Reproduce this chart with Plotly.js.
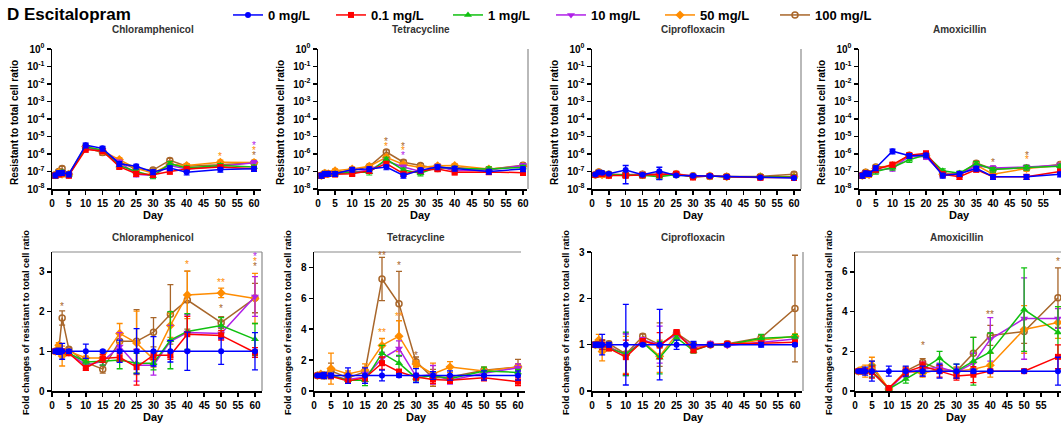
<!DOCTYPE html>
<html><head><meta charset="utf-8">
<script src="https://cdn.plot.ly/plotly-3.0.1.min.js"></script>
<style>html,body{margin:0;padding:0;background:#fff}#chart{width:1061px;height:425px}</style>
</head><body><div id="chart"></div>
<script>
// ---------------- DATA ----------------
const days = [1, 2, 3, 5, 10, 15, 20, 25, 30, 35, 40, 50, 60];
const seriesNames = ['0 mg/L', '0.1 mg/L', '1 mg/L', '10 mg/L', '50 mg/L', '100 mg/L'];
const xTickVals = [0, 5, 10, 15, 20, 25, 30, 35, 40, 45, 50, 55, 60];
const logTickVals = [1, 1e-1, 1e-2, 1e-3, 1e-4, 1e-5, 1e-6, 1e-7, 1e-8];
const logTickText = ['10<sup>0</sup>', '10<sup>-1</sup>', '10<sup>-2</sup>', '10<sup>-3</sup>', '10<sup>-4</sup>', '10<sup>-5</sup>', '10<sup>-6</sup>', '10<sup>-7</sup>', '10<sup>-8</sup>'];
const panelTitles = ['Chloramphenicol', 'Tetracycline', 'Ciprofloxacin', 'Amoxicillin'];

// Top row: resistant to total cell ratio (rows: 0, 0.1, 1, 10, 50, 100 mg/L)
const chlRatio = [
  [6.1e-8, 8.3e-8, 8.5e-8, 7e-8, 3.2e-6, 2.1e-6, 2.8e-7, 2e-7, 9.5e-8, 1.6e-7, 9e-8, 1.3e-7, 1.45e-7],
  [6e-8, 7e-8, 8e-8, 6e-8, 1.8e-6, 1.5e-6, 1.9e-7, 7.5e-8, 6.5e-8, 1e-7, 1.4e-7, 1.8e-7, 1.45e-7],
  [6e-8, 8e-8, 9e-8, 6.5e-8, 2.5e-6, 1.7e-6, 2.2e-7, 1e-7, 5.5e-8, 2.8e-7, 1.6e-7, 2.2e-7, 1.8e-7],
  [6e-8, 8e-8, 9e-8, 6.5e-8, 2.2e-6, 1.6e-6, 3.5e-7, 7e-8, 6e-8, 2.2e-7, 1.4e-7, 2e-7, 3.2e-7],
  [6.5e-8, 9e-8, 7e-8, 7e-8, 2.7e-6, 1.5e-6, 4.8e-7, 1.5e-7, 8e-8, 2.6e-7, 2.2e-7, 3.4e-7, 3.3e-7],
  [6.5e-8, 1e-7, 1.5e-7, 7e-8, 2.3e-6, 1.2e-6, 3.5e-7, 1.4e-7, 1.2e-7, 4.3e-7, 2e-7, 2.4e-7, 3.2e-7]
];
const tetRatio = [
  [6e-8, 7.5e-8, 7.5e-8, 7.5e-8, 1.3e-7, 1.4e-7, 1.8e-7, 6e-8, 1.2e-7, 1.8e-7, 1.5e-7, 1e-7, 1.4e-7],
  [6e-8, 7e-8, 7.5e-8, 7e-8, 7.5e-8, 1.1e-7, 2.8e-7, 7.5e-8, 1.1e-7, 1.4e-7, 9e-8, 9.5e-8, 8.5e-8],
  [6e-8, 7.5e-8, 7.5e-8, 7.5e-8, 9e-8, 9e-8, 5e-7, 1.2e-7, 8e-8, 1.8e-7, 1.5e-7, 1.4e-7, 1.7e-7],
  [6e-8, 7.5e-8, 7.5e-8, 7.5e-8, 9e-8, 1.2e-7, 4e-7, 1.8e-7, 1e-7, 2e-7, 1.1e-7, 1.2e-7, 2.2e-7],
  [6e-8, 8e-8, 7.5e-8, 1.1e-7, 1.4e-7, 2e-7, 6.5e-7, 2.5e-7, 1.7e-7, 2.1e-7, 2.2e-7, 1.4e-7, 2e-7],
  [6e-8, 8e-8, 7.5e-8, 9e-8, 1.1e-7, 1.9e-7, 1.3e-6, 3.4e-7, 2.2e-7, 1.5e-7, 1.7e-7, 1.3e-7, 2.3e-7]
];
const cipRatio = [
  [6.8e-8, 9e-8, 8.5e-8, 7.5e-8, 1.2e-7, 6.5e-8, 1.05e-7, 6e-8, 5.8e-8, 5.5e-8, 5e-8, 4.6e-8, 4.2e-8],
  [6.5e-8, 8e-8, 7.5e-8, 6e-8, 6e-8, 6.2e-8, 6.8e-8, 7.5e-8, 4.8e-8, 5.5e-8, 5e-8, 4.6e-8, 4.5e-8],
  [6.5e-8, 8e-8, 7.5e-8, 6.5e-8, 6.5e-8, 6.2e-8, 5e-8, 6.8e-8, 5e-8, 5.5e-8, 5e-8, 5.2e-8, 5e-8],
  [6.5e-8, 8e-8, 7.5e-8, 6.5e-8, 6.5e-8, 6.8e-8, 7e-8, 7e-8, 5.5e-8, 5.8e-8, 5e-8, 4.8e-8, 4.8e-8],
  [6.5e-8, 9e-8, 6.5e-8, 6.5e-8, 6.5e-8, 6.5e-8, 5.5e-8, 7e-8, 5.4e-8, 5.5e-8, 5e-8, 5e-8, 5e-8],
  [6.5e-8, 9.5e-8, 7.5e-8, 7e-8, 6.5e-8, 7e-8, 7e-8, 7.2e-8, 5.8e-8, 5.5e-8, 5.1e-8, 5.2e-8, 7e-8]
];
const amoRatio = [
  [6e-8, 8e-8, 7.5e-8, 1.6e-7, 1.45e-6, 8e-7, 8.5e-7, 6e-8, 7.5e-8, 1.5e-7, 5e-8, 5e-8, 7e-8],
  [6e-8, 8e-8, 7.5e-8, 1.3e-7, 2.5e-7, 8.5e-7, 1.1e-6, 7e-8, 5e-8, 1.3e-7, 5e-8, 5e-8, 1e-7],
  [6e-8, 8e-8, 7.5e-8, 1e-7, 1.7e-7, 4.7e-7, 9e-7, 1.1e-7, 8e-8, 2.8e-7, 1.3e-7, 1.7e-7, 2e-7],
  [6e-8, 8e-8, 7.5e-8, 1.2e-7, 1.5e-7, 7.5e-7, 7e-7, 7e-8, 6.5e-8, 2.2e-7, 1.6e-7, 1.8e-7, 2.3e-7],
  [6e-8, 8.5e-8, 6.5e-8, 1.5e-7, 2.2e-7, 8e-7, 8e-7, 7e-8, 7e-8, 2.3e-7, 7e-8, 1.5e-7, 2.2e-7],
  [6e-8, 9e-8, 7.5e-8, 1.8e-7, 2e-7, 8.5e-7, 9e-7, 8e-8, 7e-8, 3e-7, 1.4e-7, 1.6e-7, 2.5e-7]
];
const cipRatioBlueErr = [1e-8, 1.5e-8, 1.5e-8, 1e-8, 1e-7, 8e-9, 7e-8, 8e-9, 8e-9, 6e-9, 5e-9, 5e-9, 5e-9];

// Bottom row: fold changes
const chlFold = [
  [1, 1, 1, 1, 1, 1, 1, 1, 1, 1, 1, 1, 1],
  [1.0, 1.0, 1.0, 0.95, 0.58, 0.82, 0.85, 0.6, 0.9, 0.9, 1.43, 1.4, 0.97],
  [1.0, 1.0, 1.0, 0.95, 0.73, 0.75, 0.78, 0.7, 0.7, 1.28, 1.5, 1.65, 1.3],
  [1.0, 1.0, 1.0, 0.95, 0.65, 0.75, 1.12, 0.65, 0.65, 1.25, 1.47, 1.45, 2.38],
  [1.0, 1.15, 0.88, 1.0, 0.83, 0.83, 1.45, 1.21, 0.8, 1.65, 2.42, 2.47, 2.33],
  [1.0, 1.05, 1.84, 1.05, 0.72, 0.55, 1.25, 1.25, 1.48, 1.93, 2.29, 1.72, 2.34]
];
const chlFoldErr = [
  [0.05, 0.08, 0.2, 0.05, 0.18, 0.03, 0.28, 0.57, 0.37, 0.27, 0.48, 0.33, 0.47],
  [0.03, 0.03, 0.05, 0.05, 0.06, 0.1, 0.1, 0.45, 0.1, 0.1, 0.45, 0.12, 0.12],
  [0.03, 0.03, 0.05, 0.05, 0.08, 0.1, 0.22, 0.25, 0.17, 0.72, 0.45, 0.2, 0.4],
  [0.03, 0.03, 0.05, 0.05, 0.08, 0.1, 0.35, 0.4, 0.25, 0.4, 0.45, 0.15, 0.5],
  [0.05, 0.07, 0.25, 0.05, 0.05, 0.1, 0.25, 0.8, 0.2, 0.3, 0.6, 0.12, 0.63],
  [0.05, 0.05, 0.18, 0.05, 0.05, 0.1, 0.2, 0.8, 0.37, 0.75, 0.73, 0.15, 0.37]
];
const tetFold = [
  [1, 1, 1, 1, 1, 1, 1, 1, 1, 1, 1, 1, 1],
  [1.0, 1.0, 1.0, 0.95, 0.65, 0.85, 1.8, 1.25, 0.9, 0.75, 0.7, 0.85, 0.6],
  [1.0, 1.0, 1.0, 1.0, 0.7, 0.7, 2.45, 1.8, 0.85, 1.0, 0.8, 1.3, 1.2],
  [1.0, 1.0, 1.0, 1.0, 0.75, 0.9, 2.1, 2.75, 0.95, 1.05, 0.7, 1.15, 1.5],
  [1.0, 1.1, 1.0, 1.45, 1.1, 1.35, 2.95, 3.55, 1.75, 1.1, 1.55, 1.3, 1.55],
  [1.0, 1.0, 1.0, 1.3, 0.85, 1.25, 7.25, 5.65, 1.9, 0.85, 0.9, 1.35, 1.55]
];
const tetFoldErr = [
  [0.05, 0.1, 0.2, 0.15, 0.5, 0.5, 0.35, 0.1, 0.45, 0.25, 0.3, 0.3, 0.3],
  [0.05, 0.05, 0.1, 0.1, 0.15, 0.2, 0.4, 0.15, 0.2, 0.25, 0.2, 0.2, 0.25],
  [0.05, 0.05, 0.1, 0.1, 0.15, 0.35, 0.5, 0.5, 0.2, 0.25, 0.2, 0.25, 0.2],
  [0.05, 0.05, 0.1, 0.1, 0.15, 0.3, 0.4, 0.5, 0.2, 0.6, 0.25, 0.2, 0.25],
  [0.05, 0.1, 0.2, 1.0, 0.2, 0.4, 0.45, 1.0, 0.2, 0.7, 0.35, 0.2, 0.2],
  [0.05, 0.1, 0.2, 0.5, 0.15, 0.3, 1.4, 2.1, 0.3, 0.55, 0.3, 0.2, 0.5]
];
const cipFold = [
  [1, 1, 1, 1, 1, 1, 1, 1, 1, 1, 1, 1, 1],
  [1.0, 1.0, 1.0, 0.92, 0.73, 1.08, 0.98, 1.27, 0.88, 1.0, 1.02, 1.03, 1.05],
  [1.0, 1.0, 1.0, 0.92, 0.8, 1.05, 0.72, 1.15, 0.87, 1.0, 1.0, 1.14, 1.17],
  [1.0, 1.0, 1.0, 0.95, 0.78, 1.1, 1.0, 1.22, 0.95, 1.02, 0.98, 1.05, 1.12],
  [1.0, 1.1, 0.85, 0.95, 0.78, 1.08, 0.75, 1.22, 0.93, 1.0, 1.0, 1.1, 1.18],
  [1.0, 1.0, 1.0, 1.02, 0.8, 1.18, 1.0, 1.25, 1.0, 1.0, 1.02, 1.15, 1.78]
];
const cipFoldErr = [
  [0.05, 0.05, 0.22, 0.05, 0.87, 0.03, 0.76, 0.1, 0.07, 0.04, 0.03, 0.05, 0.03],
  [0.05, 0.05, 0.1, 0.05, 0.37, 0.05, 0.28, 0.05, 0.05, 0.03, 0.03, 0.03, 0.03],
  [0.05, 0.05, 0.1, 0.05, 0.47, 0.05, 0.35, 0.05, 0.05, 0.03, 0.03, 0.08, 0.05],
  [0.05, 0.05, 0.1, 0.05, 0.45, 0.05, 0.4, 0.05, 0.05, 0.05, 0.03, 0.05, 0.05],
  [0.05, 0.12, 0.2, 0.05, 0.4, 0.05, 0.35, 0.05, 0.05, 0.03, 0.03, 0.05, 0.05],
  [0.05, 0.05, 0.1, 0.05, 0.45, 0.05, 0.47, 0.05, 0.05, 0.03, 0.03, 0.05, 1.15]
];
const amoFold = [
  [1, 1, 1, 1, 1, 1, 1, 1, 1, 1, 1, 1, 1],
  [1.0, 1.0, 1.0, 0.95, 0.15, 0.95, 1.25, 1.0, 0.75, 0.82, 1.0, 1.0, 1.72],
  [1.0, 1.0, 1.0, 1.0, 0.1, 0.6, 1.1, 1.65, 1.0, 1.5, 1.97, 4.1, 2.95],
  [1.0, 1.0, 1.0, 1.0, 0.1, 0.9, 1.1, 1.2, 0.95, 1.4, 2.6, 3.65, 3.65],
  [1.0, 1.05, 1.0, 1.3, 0.1, 1.0, 0.9, 1.1, 1.0, 1.1, 1.3, 3.1, 3.45],
  [1.0, 1.0, 1.0, 1.2, 0.1, 1.0, 1.43, 1.1, 1.0, 1.9, 2.8, 3.0, 4.7]
];
const amoFoldErr = [
  [0.05, 0.1, 0.2, 0.5, 0.25, 0.25, 0.25, 0.35, 0.35, 0.1, 0.05, 0.05, 0.7],
  [0.05, 0.05, 0.1, 0.3, 0.05, 0.2, 0.2, 0.3, 0.2, 0.4, 0.05, 0.05, 0.6],
  [0.05, 0.05, 0.1, 0.3, 0.05, 0.2, 0.2, 0.35, 0.35, 1.2, 0.95, 2.1, 1.3],
  [0.05, 0.05, 0.1, 0.3, 0.05, 0.2, 0.35, 0.2, 0.2, 0.5, 1.1, 2.05, 0.5],
  [0.05, 0.15, 0.3, 0.4, 0.05, 0.2, 0.2, 0.2, 0.2, 0.3, 0.6, 1.2, 0.8],
  [0.05, 0.05, 0.1, 0.3, 0.05, 0.2, 0.2, 0.2, 0.2, 0.8, 0.5, 0.6, 1.5]
];

// significance marks: [day, y, series index, text]
const chlRatioStars = [[50, 6.9e-7, 4, '*'], [60, 2.95e-6, 3, '*'], [60, 1.5e-6, 4, '*'], [60, 7.9e-7, 5, '*']];
const tetRatioStars = [[20, 5e-6, 5, '*'], [20, 2.8e-6, 4, '*'], [25, 2.6e-6, 5, '*'], [25, 1.5e-6, 4, '*'], [25, 8.5e-7, 3, '*']];
const amoRatioStars = [[40, 3.2e-7, 5, '*'], [50, 8.5e-7, 5, '*'], [50, 4.8e-7, 4, '*']];
const chlFoldStars = [[3, 2.14, 5, '*'], [40, 3.18, 4, '*'], [50, 2.73, 4, '**'], [50, 2.08, 5, '*'], [60, 3.39, 3, '*'], [60, 3.26, 4, '*'], [60, 3.13, 5, '*']];
const tetFoldStars = [[20, 8.8, 5, '**'], [25, 8.1, 5, '*'], [20, 3.77, 4, '**'], [25, 4.8, 4, '**'], [30, 2.3, 5, '*']];
const cipFoldStars = [];
const amoFoldStars = [[20, 2.3, 5, '*'], [40, 3.85, 5, '**'], [60, 6.5, 5, '*']];

// ---------------- STYLE / LAYOUT ----------------
const colors = ['#0000FF', '#FF0000', '#10C010', '#B020E8', '#FF8C00', '#A8662A'];
const symbols = ['circle', 'square', 'triangle-up', 'triangle-down', 'diamond', 'circle-open'];
const msizes = [6, 6, 7, 7, 7, 6];
const W = 1061, H = 425;
const FONT = 'Liberation Sans, Arial, sans-serif';

const panels = [
  {vals: chlRatio, errs: null, stars: chlRatioStars, log: true, x0: 52, ppd: 3.367, xmax: 62},
  {vals: tetRatio, errs: null, stars: tetRatioStars, log: true, x0: 318, ppd: 3.417, xmax: 61.2},
  {vals: cipRatio, errs: null, stars: [], log: true, x0: 592, ppd: 3.367, xmax: 62},
  {vals: amoRatio, errs: null, stars: amoRatioStars, log: true, x0: 859, ppd: 3.35, xmax: 60.3},
  {vals: chlFold, errs: chlFoldErr, stars: chlFoldStars, log: false, x0: 52, ppd: 3.383, xmax: 62, ymax: 3.5, ytv: [0, 1, 2, 3]},
  {vals: tetFold, errs: tetFoldErr, stars: tetFoldStars, log: false, x0: 314, ppd: 3.4, xmax: 62, ymax: 9, ytv: [0, 2, 4, 6, 8]},
  {vals: cipFold, errs: cipFoldErr, stars: cipFoldStars, log: false, x0: 592, ppd: 3.383, xmax: 62, ymax: 3, ytv: [0, 1, 2, 3]},
  {vals: amoFold, errs: amoFoldErr, stars: amoFoldStars, log: false, x0: 855, ppd: 3.383, xmax: 60.9, ymax: 7, ytv: [0, 2, 4, 6]}
];

const traces = [];
const layout = {
  width: W, height: H, margin: {l: 0, r: 0, t: 0, b: 0},
  paper_bgcolor: '#fff', plot_bgcolor: 'rgba(0,0,0,0)',
  font: {family: FONT, color: '#000'},
  annotations: [], shapes: []
};

const drawOrder = [5, 4, 3, 2, 1, 0];
const legendLineStart = [235, 338, 455, 558, 667, 782];

panels.forEach((p, pi) => {
  const ax = pi === 0 ? '' : String(pi + 1);
  const top = pi < 4;
  const yTopPx = top ? 49 : 252, yBotPx = top ? 189 : 391;
  const xEndPx = Math.min(W, p.x0 + p.xmax * p.ppd);
  const xd = [p.x0 / W, xEndPx / W];
  const yd = [1 - yBotPx / H, 1 - yTopPx / H];

  drawOrder.forEach(s => {
    let err;
    if (p.errs) {
      err = {type: 'data', array: p.errs[s], color: colors[s], thickness: 1.3, width: 3, visible: true};
    } else if (pi === 2 && s === 0) {
      err = {type: 'data', array: cipRatioBlueErr, color: colors[s], thickness: 1.3, width: 3, visible: true};
    } else {
      err = {type: 'percent', value: 30, color: colors[s], thickness: 1.2, width: 3, visible: true};
    }
    traces.push({
      type: 'scatter', mode: 'lines+markers', x: days, y: p.vals[s],
      xaxis: 'x' + ax, yaxis: 'y' + ax, name: seriesNames[s],
      line: {color: colors[s], width: 1.5},
      marker: {color: colors[s], symbol: symbols[s], size: msizes[s], line: {color: colors[s], width: s === 5 ? 1.5 : 0}},
      error_y: err, cliponaxis: false,
      showlegend: pi === 0, legend: s === 0 ? 'legend' : 'legend' + (s + 1),
      hoverinfo: 'skip'
    });
  });

  const axCommon = {
    showline: true, linecolor: '#000', linewidth: 1.5, ticks: 'outside', ticklen: 4, tickwidth: 1.5,
    tickcolor: '#000', showgrid: false, zeroline: false, fixedrange: true,
    tickfont: {family: FONT, size: 10, color: '#000', weight: 'bold'}
  };
  layout['xaxis' + ax] = Object.assign({}, axCommon, {
    domain: xd, anchor: 'y' + ax, range: [0, p.xmax], tickmode: 'array', tickvals: xTickVals
  });
  if (p.log) {
    layout['yaxis' + ax] = Object.assign({}, axCommon, {
      domain: yd, anchor: 'x' + ax, type: 'log', range: [-8, 0], tickmode: 'array',
      tickvals: logTickVals, ticktext: logTickText
    });
  } else {
    layout['yaxis' + ax] = Object.assign({}, axCommon, {
      domain: yd, anchor: 'x' + ax, range: [0, p.ymax], tickmode: 'array', tickvals: p.ytv
    });
  }

  const cx = (p.x0 + Math.min(p.x0 + 60 * p.ppd, W)) / 2;
  // panel title
  layout.annotations.push({
    text: panelTitles[pi % 4], xref: 'paper', yref: 'paper', x: (p.x0 + 30 * p.ppd) / W, y: 1 - (top ? 30 : 237) / H,
    showarrow: false, xanchor: 'center', yanchor: 'middle',
    font: {family: FONT, size: 10, color: '#333', weight: 'bold'}
  });
  // Day
  layout.annotations.push({
    text: 'Day', xref: 'paper', yref: 'paper', x: (p.x0 + 30 * p.ppd) / W, y: 1 - (top ? 215 : 417) / H,
    showarrow: false, xanchor: 'center', yanchor: 'middle',
    font: {family: FONT, size: 11, color: '#000', weight: 'bold'}
  });
  // y title
  layout.annotations.push({
    text: top ? 'Resistant to total cell ratio' : 'Fold changes of resistant to total cell ratio',
    xref: 'paper', yref: 'paper', x: (p.x0 - (top ? 38 : 26)) / W, y: 1 - (top ? 123 : 323) / H,
    textangle: -90, showarrow: false, xanchor: 'center', yanchor: 'middle',
    font: {family: FONT, size: top ? 10 : 9.2, color: '#000', weight: 'bold'}
  });
  // stars
  p.stars.forEach(st => {
    layout.annotations.push({
      text: st[3], xref: 'x' + ax, yref: 'y' + ax, x: st[0], y: p.log ? Math.log10(st[1]) : st[1],
      showarrow: false, xanchor: 'center', yanchor: 'middle',
      font: {family: FONT, size: 10, color: colors[st[2]]}
    });
  });
});

// frame lines (grey) seen on some panels
const grey = '#8a8a8a';
layout.shapes.push(
  {type: 'line', xref: 'paper', yref: 'paper', x0: 528 / W, x1: 528 / W, y0: 1 - 189 / H, y1: 1 - 49 / H, line: {color: grey, width: 1.2}},
  {type: 'line', xref: 'paper', yref: 'paper', x0: 801 / W, x1: 801 / W, y0: 1 - 189 / H, y1: 1 - 49 / H, line: {color: grey, width: 1.2}},
  {type: 'line', xref: 'paper', yref: 'paper', x0: 52 / W, x1: 262 / W, y0: 1 - 252 / H, y1: 1 - 252 / H, line: {color: grey, width: 1.2}},
  {type: 'line', xref: 'paper', yref: 'paper', x0: 262 / W, x1: 262 / W, y0: 1 - 391 / H, y1: 1 - 252 / H, line: {color: grey, width: 1.2}},
  {type: 'line', xref: 'paper', yref: 'paper', x0: 314 / W, x1: 521 / W, y0: 1 - 252 / H, y1: 1 - 252 / H, line: {color: grey, width: 1.2}},
  {type: 'line', xref: 'paper', yref: 'paper', x0: 803 / W, x1: 803 / W, y0: 1 - 391 / H, y1: 1 - 252 / H, line: {color: grey, width: 1.2}},
  {type: 'line', xref: 'paper', yref: 'paper', x0: 855 / W, x1: 1, y0: 1 - 252 / H, y1: 1 - 252 / H, line: {color: grey, width: 1.2}}
);

// main title
layout.annotations.push({
  text: 'D Escitalopram', xref: 'paper', yref: 'paper', x: 5 / W, y: 1 - 14 / H,
  showarrow: false, xanchor: 'left', yanchor: 'middle',
  font: {family: FONT, size: 17, color: '#000', weight: 'bold'}
});

// legends (one per series, placed individually)
for (let s = 0; s < 6; s++) {
  const key = s === 0 ? 'legend' : 'legend' + (s + 1);
  layout[key] = {
    orientation: 'h', x: (legendLineStart[s] - 7) / W, xanchor: 'left', y: 1 - 15 / H, yanchor: 'middle',
    bgcolor: 'rgba(0,0,0,0)', borderwidth: 0,
    font: {family: FONT, size: 13, color: '#000', weight: 'bold'}
  };
}

Plotly.newPlot('chart', traces, layout, {staticPlot: true, displayModeBar: false});
</script>
</body></html>
